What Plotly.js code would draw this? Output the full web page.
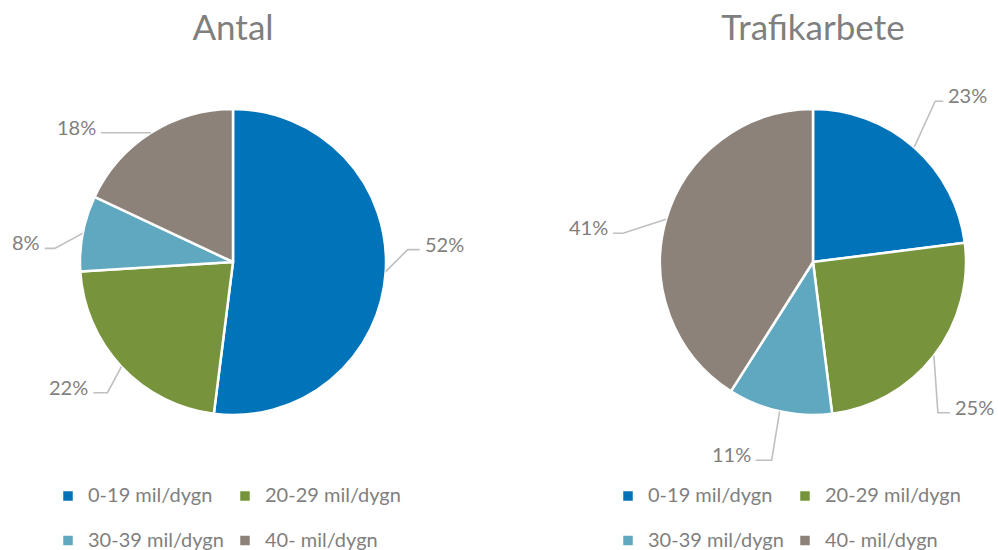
<!DOCTYPE html>
<html>
<head>
<meta charset="utf-8">
<script src="https://cdn.plot.ly/plotly-3.0.1.min.js"></script>
<style>
  html, body { margin: 0; padding: 0; background: #ffffff; }
  #wrap { position: relative; width: 998px; height: 550px; overflow: hidden; }
  .pane { position: absolute; top: 0; width: 499px; height: 550px; }
</style>
</head>
<body>
<div id="wrap">
  <div id="chartA" class="pane" style="left:0px"></div>
  <div id="chartB" class="pane" style="left:499px"></div>
</div>
<script>
// ---- data ----
const categories = ['0-19 mil/dygn', '20-29 mil/dygn', '30-39 mil/dygn', '40- mil/dygn'];
const antalValues = [52, 22, 8, 18];
const trafikarbeteValues = [23, 25, 11, 41];
const chartTitles = ['Antal', 'Trafikarbete'];

// ---- style ----
const sliceColors = ['#0073B9', '#77933C', '#5FA8C0', '#8C8279'];
const FONT = 'Lato, "Open Sans", "DejaVu Sans", sans-serif';
const GRAY = '#7f7f7f';
const PANE_W = 499, PANE_H = 550;
const RADIUS = 153;
// leader line offsets per slice: [elbow dx, elbow dy, horizontal run] (px)
const leadersA = [[22, -22, 12], [-14, 26, -14], [-28, 15, -10], [-25, 0, -25]];
const leadersB = [[21, -46, 8], [4, 57, 12], [-8, 49, -16], [-43, 14, -10]];

function drawPie(divId, title, values, centerX, centerY, leaders, legendX) {
  const dom = {
    x: [(centerX - RADIUS) / PANE_W, (centerX + RADIUS) / PANE_W],
    y: [1 - (centerY + RADIUS) / PANE_H, 1 - (centerY - RADIUS) / PANE_H]
  };
  const trace = {
    type: 'pie',
    // larger visible text, plus a blank second line to widen the legend row spacing
    labels: categories.map(c => '<span style="font-size:20px">' + c + '</span><br>&nbsp;'),
    values: values,
    sort: false,
    direction: 'clockwise',
    rotation: 0,
    textinfo: 'none',
    hoverinfo: 'label+percent',
    automargin: false,
    domain: dom,
    marker: { colors: sliceColors, line: { color: '#ffffff', width: 2.5 } }
  };

  // leader lines + labels computed from the data
  const total = values.reduce((a, b) => a + b, 0);
  let cum = 0;
  const shapes = [], annotations = [];
  values.forEach((v, i) => {
    const theta = 2 * Math.PI * (cum + v / 2) / total;
    cum += v;
    const ex = centerX + RADIUS * Math.sin(theta);
    const ey = centerY - RADIUS * Math.cos(theta);
    const [dx, dy, run] = leaders[i];
    const kx = ex + dx, ky = ey + dy;
    const tx = kx + run, ty = ky;
    const px = x => x / PANE_W, py = y => 1 - y / PANE_H;
    shapes.push({
      type: 'path', xref: 'paper', yref: 'paper',
      path: `M ${px(ex)},${py(ey)} L ${px(kx)},${py(ky)} L ${px(tx)},${py(ty)}`,
      line: { color: '#bfbfbf', width: 1.6 }
    });
    const right = run >= 0;
    annotations.push({
      xref: 'paper', yref: 'paper', x: px(tx), y: py(ty),
      xanchor: right ? 'left' : 'right', yanchor: 'middle',
      xshift: right ? 3 : -3, yshift: 6,
      text: Math.round(v / total * 100) + '%',
      showarrow: false,
      font: { family: FONT, size: 20, color: GRAY }
    });
  });

  const layout = {
    width: PANE_W, height: PANE_H,
    margin: { l: 0, r: 0, t: 0, b: 0, autoexpand: false },
    paper_bgcolor: '#ffffff',
    plot_bgcolor: '#ffffff',
    font: { family: FONT, color: GRAY },
    title: {
      text: title, x: centerX / PANE_W, xanchor: 'center', xref: 'paper',
      y: 1 - 28 / PANE_H, yanchor: 'middle', yref: 'container',
      font: { family: FONT, size: 35, color: GRAY }
    },
    showlegend: true,
    legend: {
      orientation: 'h', x: legendX / PANE_W, xanchor: 'left',
      y: 1 - 479 / PANE_H, yanchor: 'top',
      entrywidth: 132, entrywidthmode: 'pixels',
      valign: 'top',
      traceorder: 'normal',
      font: { family: FONT, size: 16, color: GRAY },
      bgcolor: 'rgba(0,0,0,0)'
    },
    shapes: shapes,
    annotations: annotations
  };
  Plotly.newPlot(divId, [trace], layout, { displayModeBar: false, staticPlot: true });
}

drawPie('chartA', chartTitles[0], antalValues, 233, 262, leadersA, 48);
drawPie('chartB', chartTitles[1], trafikarbeteValues, 314, 262, leadersB, 109);
</script>
</body>
</html>
